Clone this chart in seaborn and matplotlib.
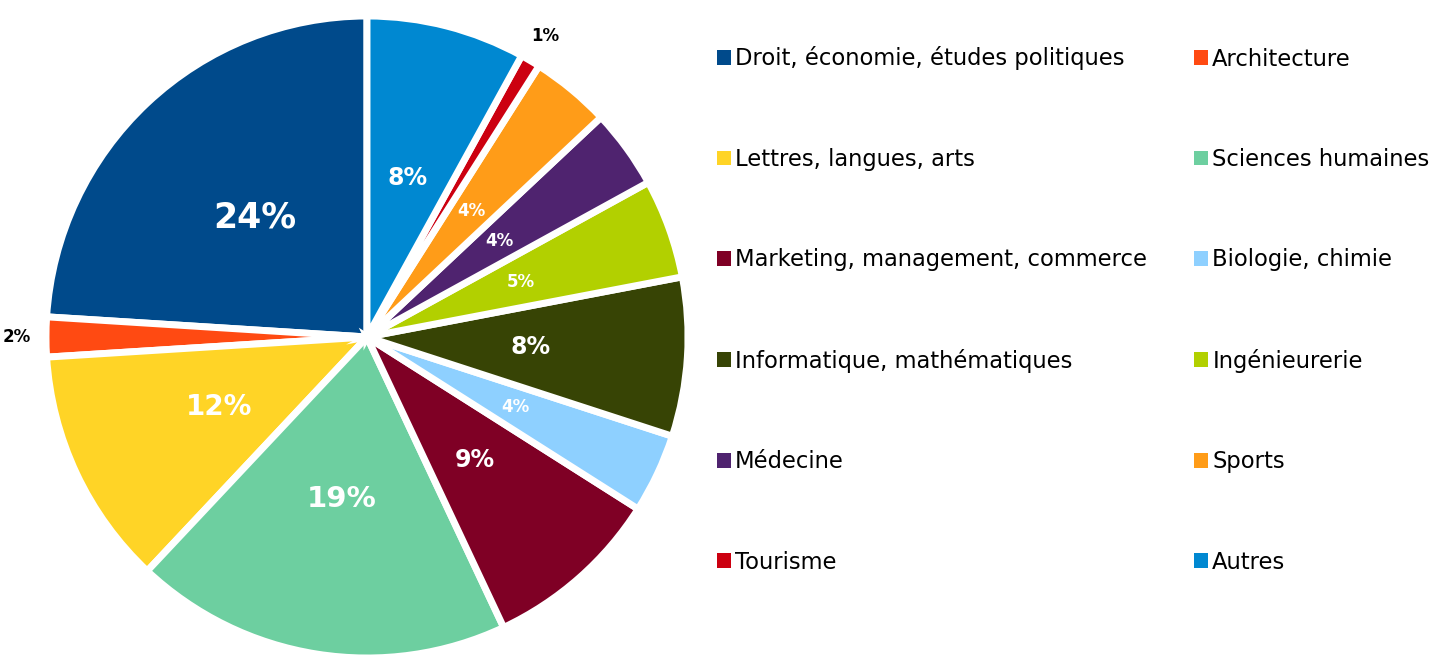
import matplotlib
matplotlib.use("Agg")
import matplotlib.pyplot as plt
from matplotlib.patches import Patch
import seaborn as sns

# data, counterclockwise from 12 o'clock
categories = ["Droit, économie, études politiques", "Architecture", "Lettres, langues, arts",
              "Sciences humaines", "Marketing, management, commerce", "Biologie, chimie",
              "Informatique, mathématiques", "Ingénieurerie", "Médecine", "Sports",
              "Tourisme", "Autres"]
shares = [24, 2, 12, 19, 9, 4, 8, 5, 4, 4, 1, 8]
colors = ["#004a8b", "#ff4a12", "#ffd426", "#6dcfa0", "#7f0025", "#8ed0ff",
          "#374405", "#b2d000", "#4f236f", "#ff9c18", "#cc0010", "#0088d1"]
label_sizes = [25, 12, 20, 21, 17, 12, 17, 12, 12, 12, 12, 17]

sns.set_theme(style="white")
plt.rcParams['font.family'] = ['DejaVu Sans']

fig = plt.figure(figsize=(14.35, 6.6), dpi=100)
ax = fig.add_axes([46 / 1435, (660 - 337 - 321) / 660, 642 / 1435, 642 / 660])

wedges, texts, autotexts = ax.pie(shares, colors=sns.color_palette(colors), startangle=90,
                                  counterclock=True, autopct="%d%%", pctdistance=0.51,
                                  wedgeprops={'edgecolor': 'white', 'linewidth': 5})
ax.set_xlim(-1, 1)
ax.set_ylim(-1, 1)
ax.set_aspect("equal")

for i, t in enumerate(autotexts):
    t.set_fontsize(label_sizes[i])
    t.set_fontweight("bold")
    t.set_color("white")
    if shares[i] <= 2:
        t.set_color("black")
        x, y = t.get_position()
        r = (x ** 2 + y ** 2) ** 0.5
        t.set_position((x / r * 1.09, y / r * 1.09))

# legend row by row, two columns
order = [0, 2, 4, 6, 8, 10, 1, 3, 5, 7, 9, 11]
handles = [Patch(facecolor=colors[i], edgecolor="none", label=categories[i]) for i in order]
leg = fig.legend(handles=handles, ncol=2, loc="upper left", bbox_to_anchor=(717 / 1435, 1 - 46.5 / 660),
                 frameon=False, fontsize=16.3, handlelength=0.62, handleheight=0.62,
                 handletextpad=0.17, labelspacing=3.42, columnspacing=2.1, borderaxespad=0, borderpad=0)
for t in leg.get_texts():
    t.set_color("black")

plt.savefig("out.png", dpi=100)
